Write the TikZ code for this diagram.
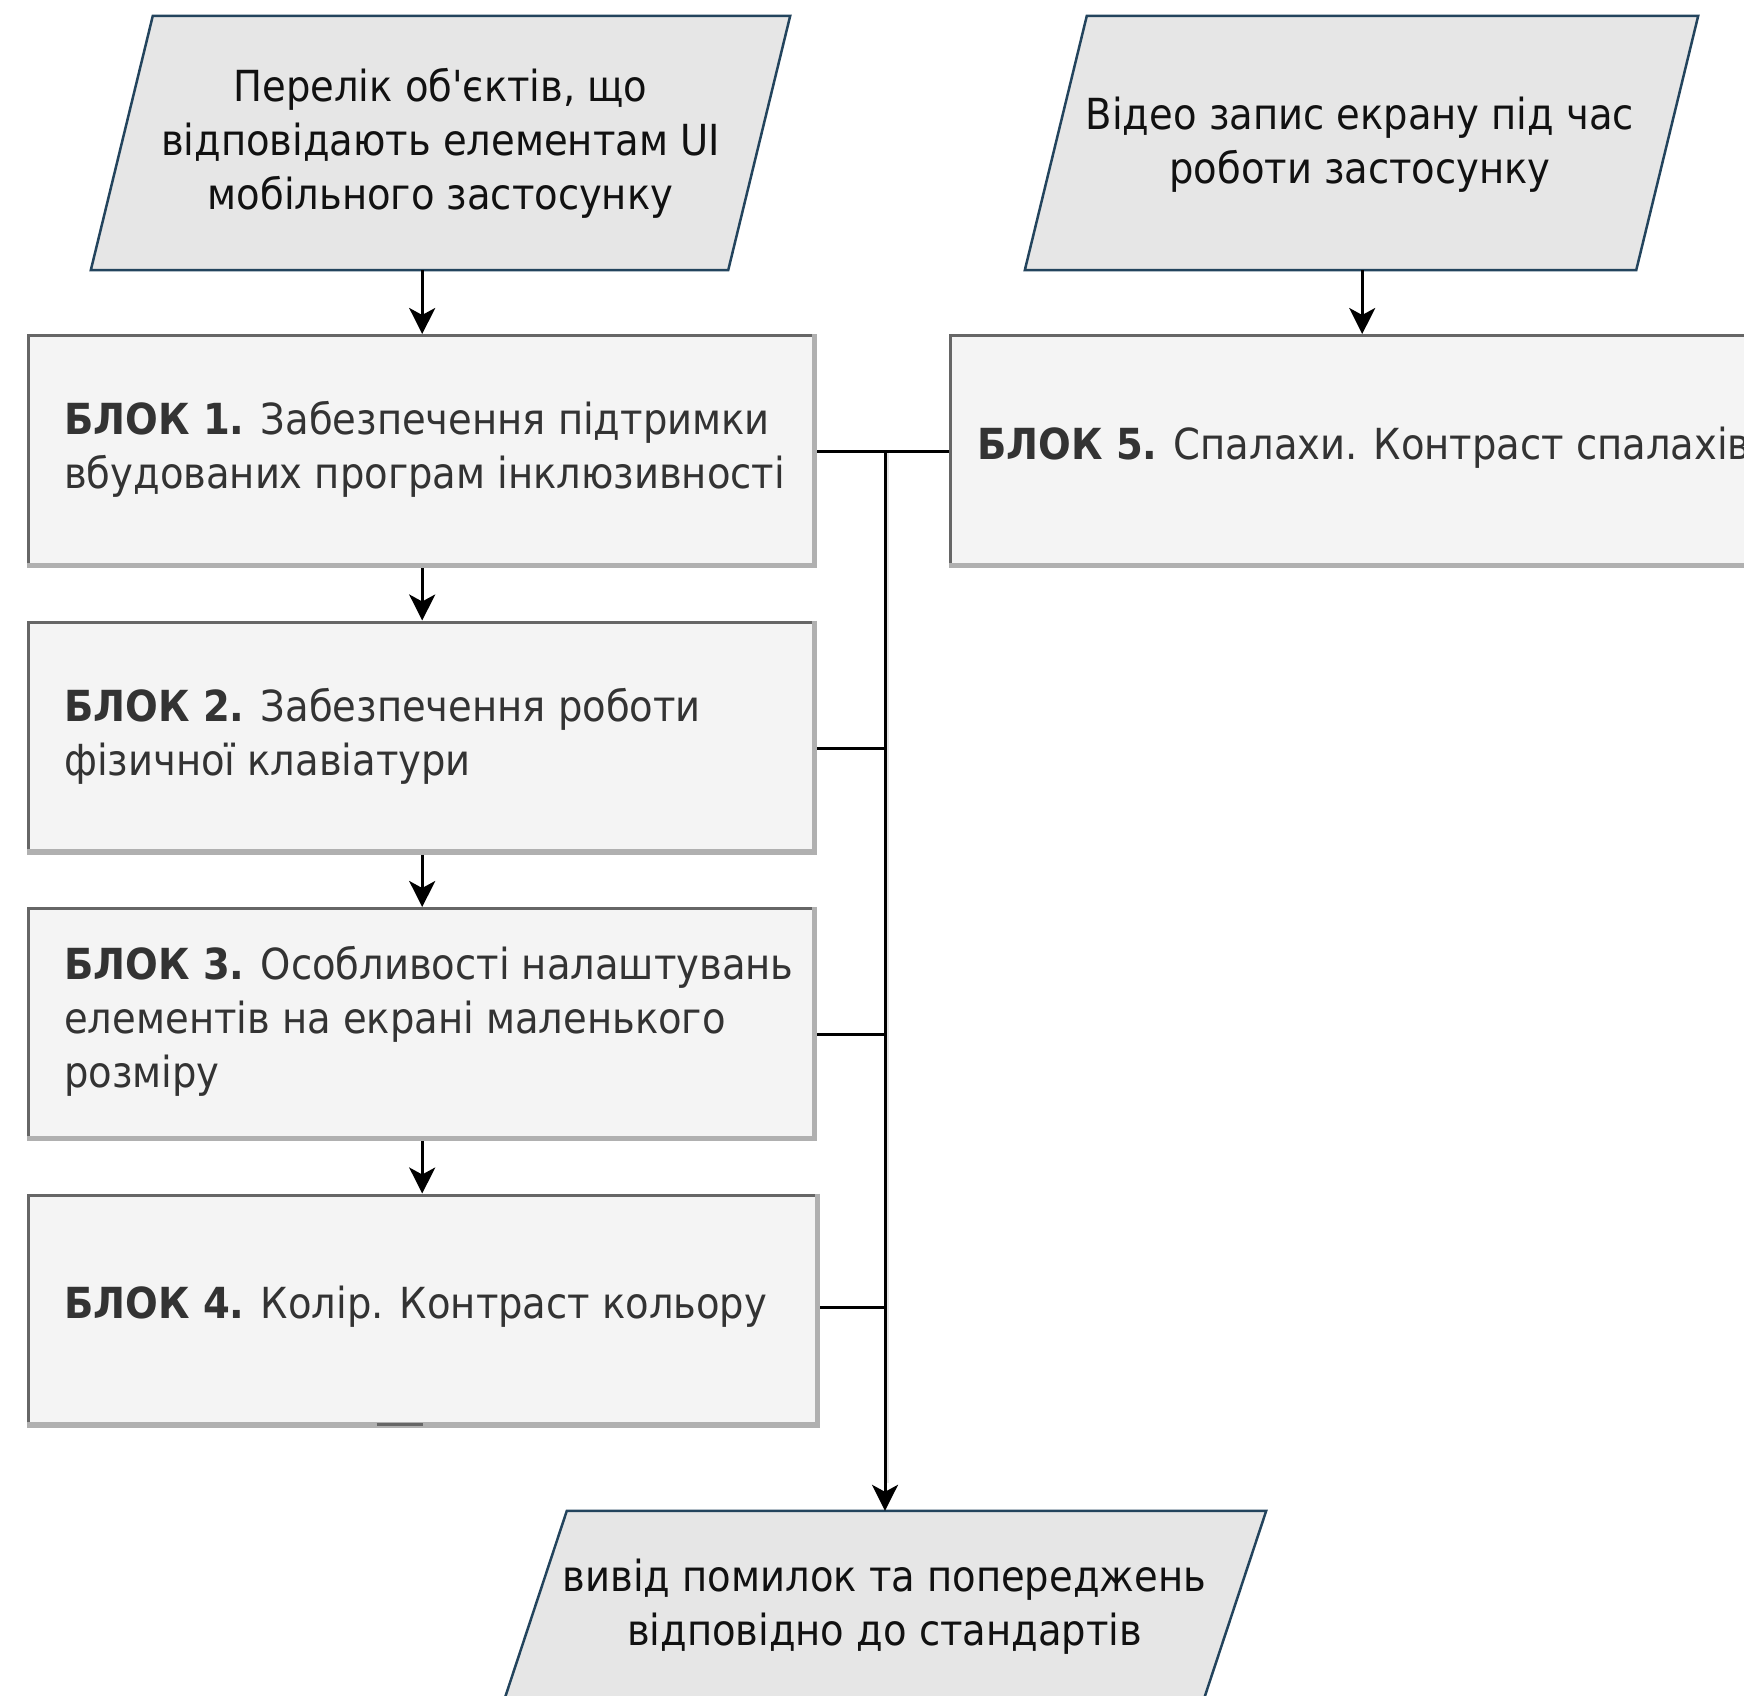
\documentclass[tikz,border=0pt]{standalone}
\usepackage{fontspec}
\setmainfont{DejaVu Sans Condensed}
\usetikzlibrary{arrows.meta,calc}

\definecolor{paraFill}{HTML}{E6E6E6}
\definecolor{paraLine}{HTML}{23445D}
\definecolor{boxFill}{HTML}{F4F4F4}
\definecolor{boxEdge}{HTML}{666666}
\definecolor{boxShade}{HTML}{B0B0B0}
\definecolor{boxText}{HTML}{333333}
\definecolor{paraText}{HTML}{111111}

\tikzset{
  paranode/.style={rectangle, inner sep=0pt, align=center, text=paraText,
    font=\fontsize{42.8}{54}\selectfont},
  parashape/.style={fill=paraFill, draw=paraLine, line width=2.5pt, line join=miter},
  blockbox/.style={rectangle, fill=boxFill, inner sep=0pt, anchor=north west,
    minimum height=234pt},
  blocktext/.style={align=left, text=boxText, inner sep=0pt, anchor=west,
    font=\fontsize{42.8}{54}\selectfont},
  link/.style={draw=black, line width=3pt},
  arr/.style={link, -{Stealth[length=26pt, width=26pt, inset=7pt]}},
}

% slanted input/output shape built from the corners of a named node
\newcommand\slantshape[2]{%
  \draw[parashape] ($(#1.north west)+(#2,0pt)$) -- (#1.north east)
    -- ($(#1.south east)+(-#2,0pt)$) -- (#1.south west) -- cycle;}

% block outline: dark top/left edges, light shaded right/bottom edges
\newcommand\blockedges[1]{%
  \draw[boxShade, line width=5.5pt]
    ($(#1.north east)+(-2.75pt,0pt)$) -- ($(#1.south east)+(-2.75pt,2.75pt)$)
    -- ($(#1.south west)+(0pt,2.75pt)$);
  \draw[boxEdge, line width=3pt]
    ($(#1.south west)+(1.5pt,5.5pt)$) -- ($(#1.north west)+(1.5pt,-1.5pt)$)
    -- ($(#1.north east)+(-5.5pt,-1.5pt)$);}

\begin{document}
\begin{tikzpicture}[x=1pt, y=-1pt]
\useasboundingbox (0,0) rectangle (1744,1695);
\clip (0,0) rectangle (1744,1695);

% inputs
\node[paranode, minimum width=699pt, minimum height=254pt] (in1) at (440.5,143) {};
\slantshape{in1}{62pt}
\node[paranode] (in1t) at (440.5,143)
  {Перелік об\textquotesingle єктів, що\\відповідають елементам UI\\мобільного застосунку};

\node[paranode, minimum width=673pt, minimum height=254pt] (in2) at (1361.5,143) {};
\slantshape{in2}{62pt}
\node[paranode] (in2t) at (1360,145)
  {Відео запис екрану під час\\роботи застосунку};

% output
\node[paranode, minimum width=762pt, minimum height=190pt] (out) at (885,1606) {};
\slantshape{out}{63pt}
\node[paranode] (outt) at (884.5,1607)
  {вивід помилок та попереджень\\відповідно до стандартів};

% blocks
\node[blockbox, minimum width=790pt] (b1) at (27,334) {};
\node[blockbox, minimum width=790pt] (b2) at (27,620.5) {};
\node[blockbox, minimum width=790pt] (b3) at (27,907) {};
\node[blockbox, minimum width=793pt] (b4) at (27,1193.5) {};
\node[blockbox, minimum width=826pt] (b5) at (949,334) {};
\blockedges{b1}
\blockedges{b2}
\blockedges{b3}
\blockedges{b4}
\blockedges{b5}
\draw[boxEdge, line width=3pt] ($(b4.south)+(-47pt,3pt)$) -- ($(b4.south)+(-1pt,3pt)$);

\node[blocktext] (t1) at (64,449.5)
  {\textbf{БЛОК 1.} Забезпечення підтримки\\вбудованих програм інклюзивності};
\node[blocktext] (t2) at (64,736)
  {\textbf{БЛОК 2.} Забезпечення роботи\\фізичної клавіатури};
\node[blocktext] (t3) at (64,1021)
  {\textbf{БЛОК 3.} Особливості налаштувань\\елементів на екрані маленького\\розміру};
\node[blocktext] (t4) at (64,1307)
  {\textbf{БЛОК 4.} Колір. Контраст кольору};
\node[blocktext] (t5) at (977,448)
  {\textbf{БЛОК 5.} Спалахи. Контраст спалахів};

% flow arrows
\draw[arr] (b1.north |- in1.south) -- (b1.north);
\draw[arr] (b5.north |- in2.south) -- (b5.north);
\draw[arr] (b1.south) -- (b2.north);
\draw[arr] (b2.south) -- (b3.north);
\draw[arr] (b3.south) -- (b3.south |- b4.north);

% collecting bus
\coordinate (j1) at (885,451);
\coordinate (j2) at (885,748.5);
\coordinate (j3) at (885,1034);
\coordinate (j4) at (885,1307.5);
\draw[line width=2.5pt, draw=black!10] ($(j1)+(2.75pt,0pt)$) -- ($(out.north -| j1)+(2.75pt,28pt)$);
\draw[link] (b1.east) -- (b5.west);
\draw[link] (b2.east |- j2) -- (j2);
\draw[link] (b3.east |- j3) -- (j3);
\draw[link] (b4.east |- j4) -- (j4);
\draw[arr] (j1) -- (out.north -| j1);
\end{tikzpicture}
\end{document}
